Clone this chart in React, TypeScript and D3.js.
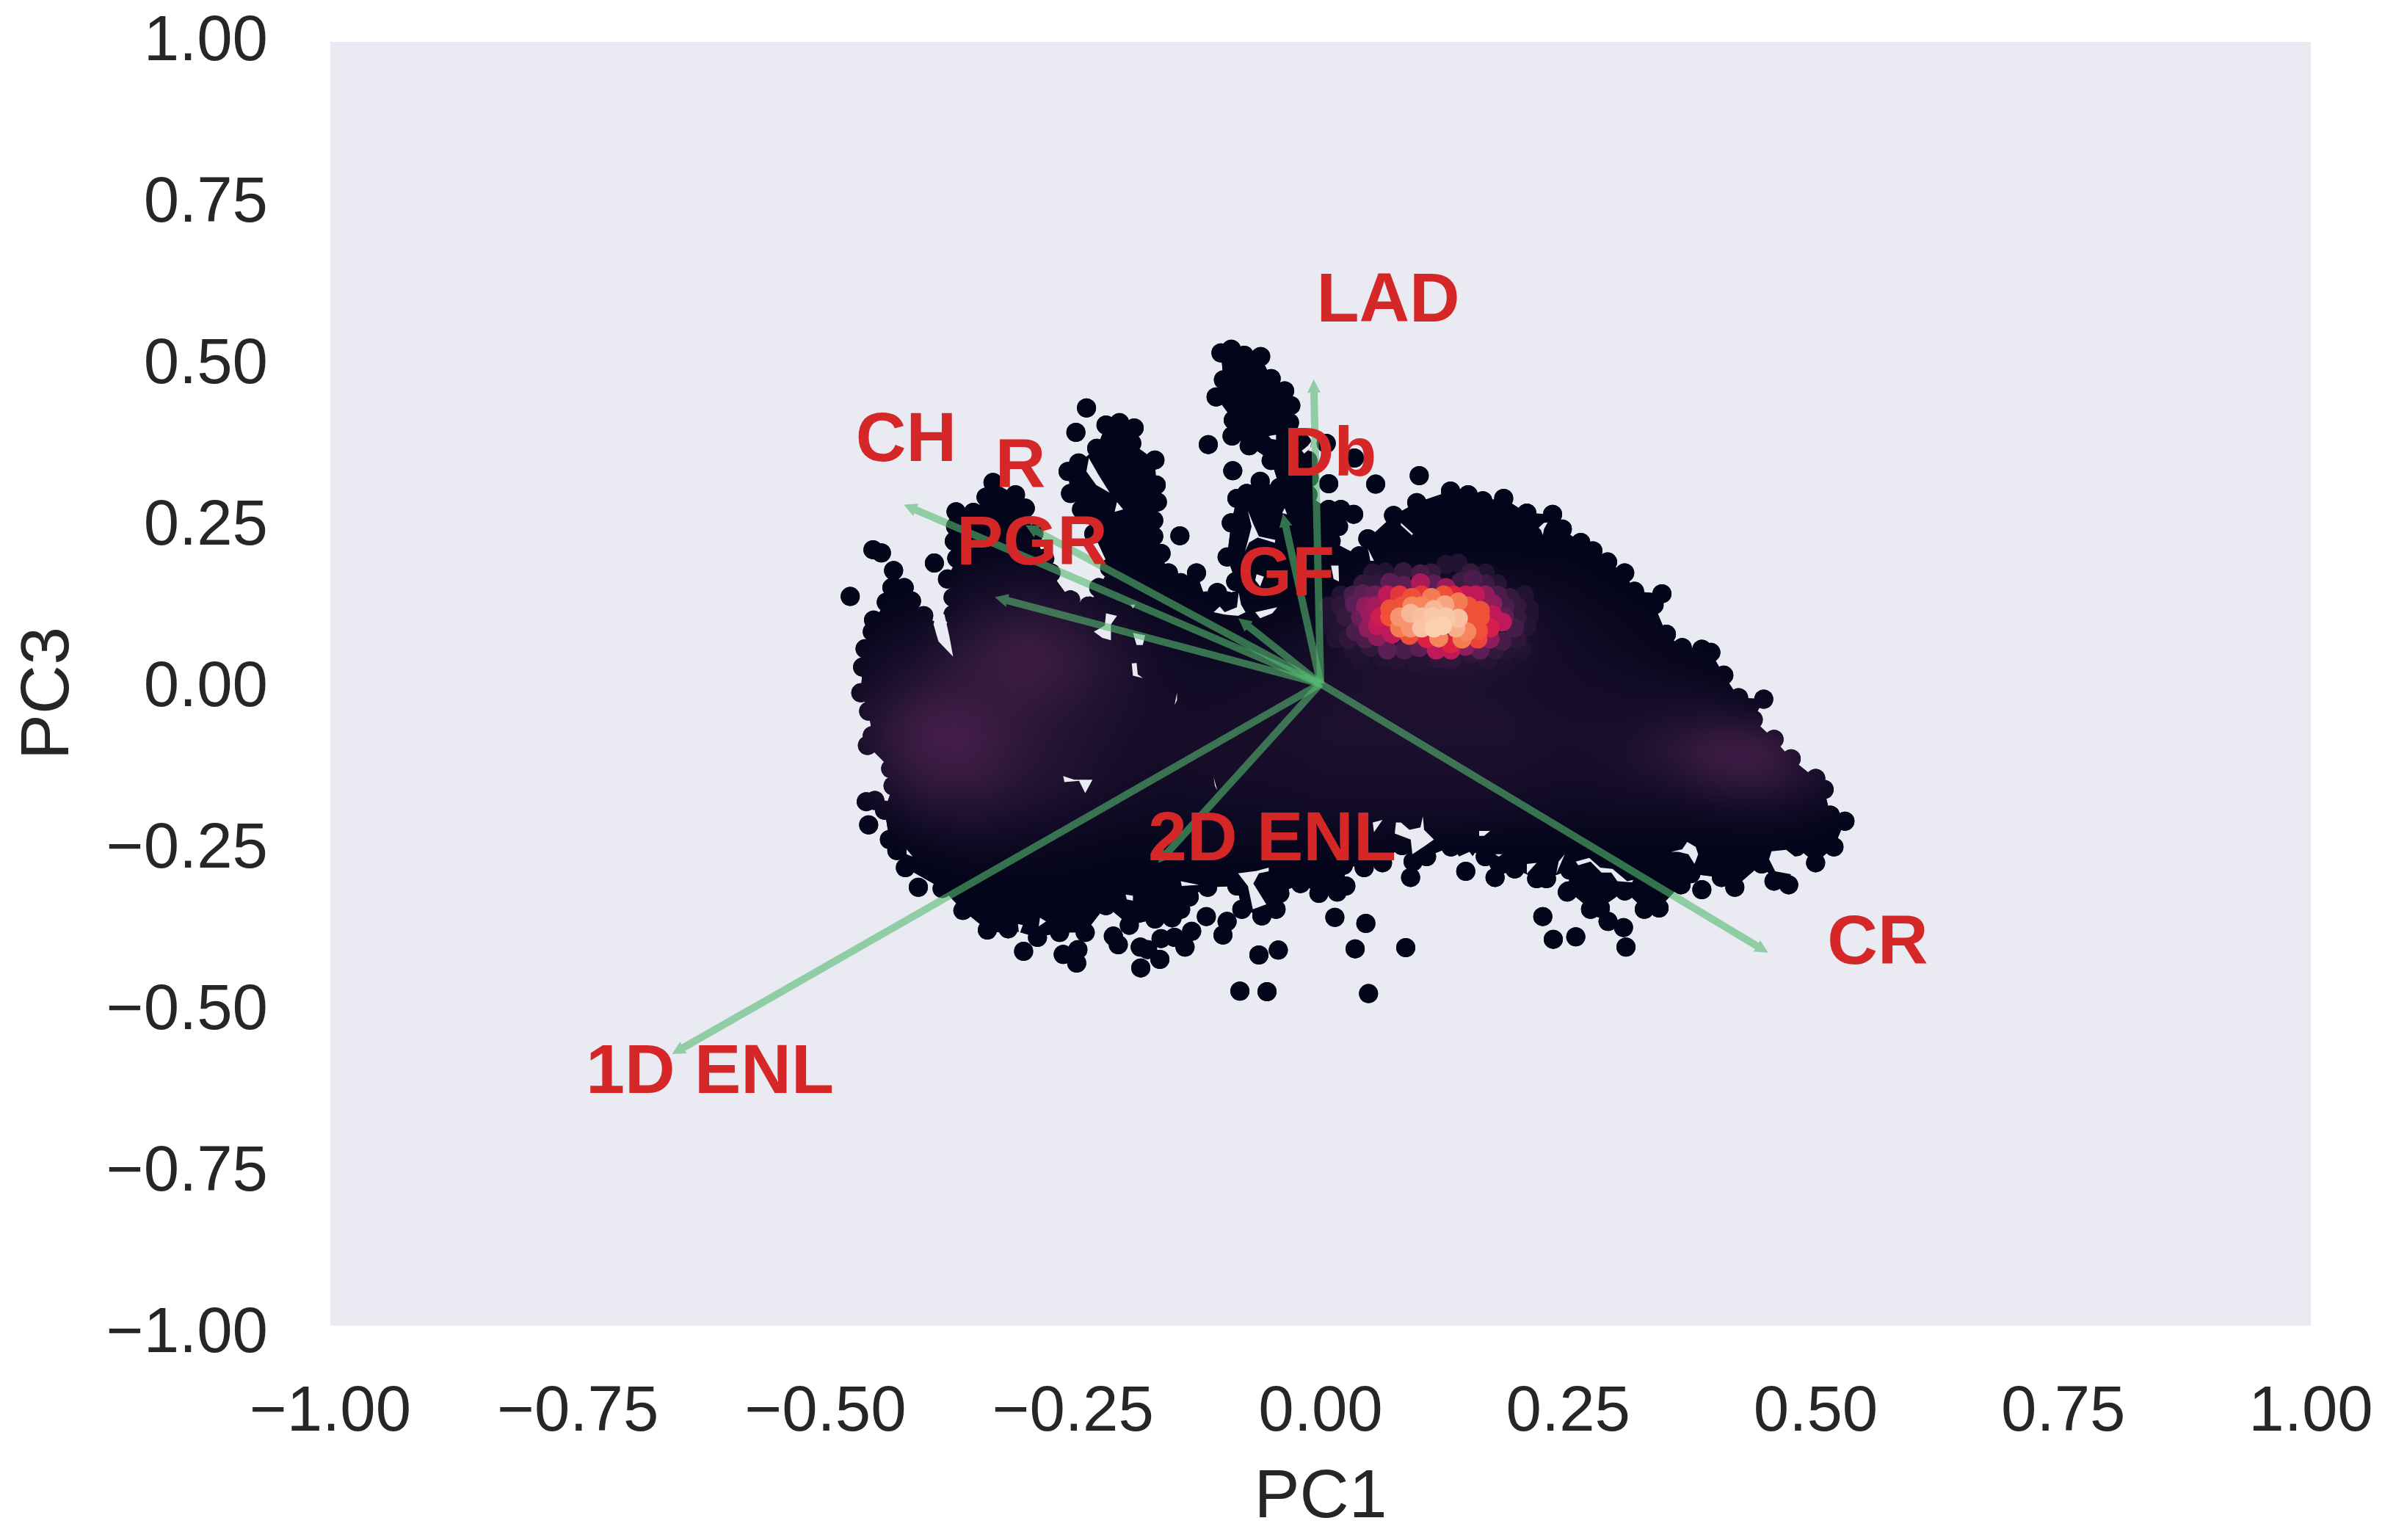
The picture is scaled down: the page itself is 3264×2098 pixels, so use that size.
import * as d3 from 'd3';

type Pt = [number, number];

const ticks = [-1, -0.75, -0.5, -0.25, 0, 0.25, 0.5, 0.75, 1];

// loadings: name, arrow tip, label centre
const loadingNames = ['CH', 'R', 'PGR', 'Db', 'GF', 'LAD', '2D ENL', '1D ENL', 'CR'];
const loadingTips: Pt[] = [
  [-0.421, 0.279], [-0.298, 0.247], [-0.329, 0.135], [-0.083, 0.102], [-0.038, 0.265],
  [-0.007, 0.474], [-0.164, -0.279], [-0.655, -0.577], [0.452, -0.419],
];
const loadingLabels: Pt[] = [
  [-0.4185, 0.3851], [-0.3032, 0.344], [-0.2913, 0.224], [0.0096, 0.3623], [-0.0348, 0.176],
  [0.0682, 0.6023], [-0.0489, -0.2366], [-0.6167, -0.6], [0.5626, -0.3977],
];

// points along the edge of the cloud, in order
const edgePoints: Pt[] = [
  [-0.4625, 0.0259], [-0.46, 0.0545], [-0.4527, 0.081], [-0.4514, 0.0992], [-0.4386, 0.1269], [-0.4329, 0.1497],
  [-0.4312, 0.1764], [-0.4205, 0.1497], [-0.4131, 0.1288], [-0.4008, 0.106], [-0.3958, 0.085], [-0.3921, 0.062],
  [-0.3711, 0.1078], [-0.3711, 0.1345], [-0.3768, 0.1631], [-0.3674, 0.1954], [-0.3699, 0.222], [-0.3686, 0.245],
  [-0.3681, 0.2678], [-0.3506, 0.267], [-0.3378, 0.2907], [-0.3308, 0.3135], [-0.3081, 0.2945], [-0.2982, 0.2735],
  [-0.2896, 0.2335], [-0.2785, 0.1954], [-0.2723, 0.1726], [-0.2525, 0.1307], [-0.234, 0.1212], [-0.2241, 0.1497],
  [-0.213, 0.1802], [-0.229, 0.2335], [-0.2414, 0.2716], [-0.2525, 0.2964], [-0.255, 0.3307], [-0.2443, 0.344],
  [-0.2261, 0.3669], [-0.2167, 0.4031], [-0.2031, 0.4069], [-0.1883, 0.3985], [-0.1907, 0.3745], [-0.1673, 0.3486],
  [-0.166, 0.3097], [-0.1648, 0.2831], [-0.1685, 0.2545], [-0.1685, 0.2297], [-0.1611, 0.203], [-0.1537, 0.1726],
  [-0.1413, 0.1574], [-0.1253, 0.1726], [-0.1154, 0.1288], [-0.1043, 0.1421], [-0.0944, 0.1288], [-0.0857, 0.1288],
  [-0.0857, 0.1593], [-0.0944, 0.1974], [-0.0902, 0.2507], [-0.0845, 0.2888], [-0.0746, 0.2964], [-0.061, 0.3154],
  [-0.0413, 0.3059], [-0.0499, 0.3478], [-0.0721, 0.3707], [-0.0894, 0.3859], [-0.0882, 0.4107], [-0.1055, 0.4469],
  [-0.0981, 0.4735], [-0.1006, 0.5154], [-0.0902, 0.5212], [-0.0771, 0.5116], [-0.0605, 0.5097], [-0.0499, 0.4754],
  [-0.0363, 0.4564], [-0.0301, 0.4335], [-0.0314, 0.4069], [-0.0239, 0.3821], [-0.019, 0.3745], [-0.0128, 0.3478],
  [-0.0116, 0.3211], [-0.0128, 0.2945], [0.0082, 0.2716], [0.0205, 0.2716], [0.0334, 0.264], [0.0181, 0.245],
  [0.0106, 0.2221], [0.0391, 0.1992], [0.0477, 0.2259], [0.0737, 0.2621], [0.0971, 0.2823], [0.1312, 0.3002],
  [0.149, 0.2945], [0.1638, 0.285], [0.1849, 0.2888], [0.2083, 0.2659], [0.2343, 0.264], [0.2441, 0.2411],
  [0.2627, 0.2202], [0.275, 0.2069], [0.2899, 0.1897], [0.3071, 0.1726], [0.317, 0.144], [0.3447, 0.1402],
  [0.3368, 0.123], [0.3492, 0.0773], [0.3652, 0.0564], [0.385, 0.0537], [0.3941, 0.0488], [0.4072, 0.0133],
  [0.4221, -0.0217], [0.4475, -0.024], [0.4369, -0.056], [0.4579, -0.0865], [0.4752, -0.117], [0.5, -0.1474],
  [0.5085, -0.1646], [0.5147, -0.2046], [0.5295, -0.2141], [0.5184, -0.2541], [0.4999, -0.2789], [0.4801, -0.2541],
  [0.4727, -0.3132], [0.4579, -0.3075], [0.4455, -0.2808], [0.4183, -0.317], [0.4048, -0.3018], [0.3739, -0.296],
  [0.364, -0.3132], [0.3418, -0.3494], [0.3269, -0.3513], [0.3072, -0.3227], [0.2825, -0.3494], [0.2726, -0.3513],
  [0.2503, -0.3227], [0.2516, -0.2903], [0.2281, -0.3037], [0.2182, -0.3037], [0.196, -0.2885], [0.1762, -0.3018],
  [0.1663, -0.2694], [0.1466, -0.2579], [0.1317, -0.2541], [0.107, -0.2694], [0.0934, -0.277], [0.0823, -0.2522],
  [0.0625, -0.2789], [0.044, -0.2865], [0.023, -0.2827], [0.0255, -0.3151], [0.0168, -0.3246], [-0.0017, -0.3265],
  [-0.0202, -0.3113], [-0.0412, -0.3265], [-0.045, -0.3513], [-0.0593, -0.3616], [-0.0795, -0.3513], [-0.0845, -0.3151],
  [-0.1141, -0.317], [-0.1327, -0.3322], [-0.15, -0.3647], [-0.1672, -0.3665], [-0.1932, -0.3761], [-0.2167, -0.3456],
  [-0.2377, -0.3875], [-0.2636, -0.3875], [-0.2859, -0.3951], [-0.3155, -0.3818], [-0.3365, -0.3837], [-0.3612, -0.3532],
  [-0.3822, -0.3189], [-0.4193, -0.2865], [-0.4279, -0.2599], [-0.4354, -0.2427], [-0.4403, -0.197], [-0.4317, -0.1589],
  [-0.4341, -0.1322], [-0.4576, -0.096], [-0.4527, -0.0808], [-0.4564, -0.0427], [-0.4643, -0.0141],
];

// stray points outside the edge
const strayPoints: Pt[] = [
  [-0.475, 0.136], [-0.452, 0.2088], [-0.4435, 0.2038], [-0.39, 0.188], [-0.1421, 0.2305], [0.0057, 0.3745],
  [0.0341, 0.3516], [0.0082, 0.3116], [0.0556, 0.3109], [0.0996, 0.3242], [-0.1134, 0.3726], [-0.0887, 0.3318],
  [-0.2364, 0.4297], [-0.2471, 0.3916], [-0.0623, 0.2145], [-0.4062, -0.317], [-0.4588, -0.1837], [-0.4502, -0.1818],
  [-0.4564, -0.2198], [-0.1816, -0.4427], [-0.1623, -0.4294], [-0.1747, -0.4141], [-0.1821, -0.4103], [-0.1611, -0.397],
  [-0.2043, -0.4065], [-0.2093, -0.3932], [-0.2463, -0.4351], [-0.2599, -0.4217], [-0.2451, -0.4141], [-0.2999, -0.4168],
  [-0.3254, -0.3722], [-0.1369, -0.4103], [-0.1302, -0.3856], [-0.1475, -0.3951], [-0.1413, -0.3513], [-0.1154, -0.3627],
  [-0.0944, -0.3703], [-0.0986, -0.3913], [-0.0623, -0.4225], [-0.0427, -0.4149], [-0.0815, -0.4789], [-0.0541, -0.4797],
  [0.0144, -0.3639], [0.0457, -0.3734], [0.0349, -0.413], [0.086, -0.4111], [0.0484, -0.4827], [0.1466, -0.2922],
  [0.0909, -0.3018], [0.2903, -0.3703], [0.3059, -0.3798], [0.3084, -0.4103], [0.2244, -0.3627], [0.235, -0.3981],
  [0.2577, -0.3943], [0.2491, -0.3246], [0.385, -0.3208],
];

// holes where the background shows through the cloud
const holes: Pt[][] = [
  [[-0.3909, 0.0926], [-0.3859, 0.0659], [-0.3711, 0.0423], [-0.3748, 0.0735], [-0.3798, 0.1078], [-0.3872, 0.1154]],
  [[-0.2624, 0.1555], [-0.2488, 0.144], [-0.234, 0.1353], [-0.234, 0.1574], [-0.2216, 0.1695], [-0.2352, 0.2031], [-0.2488, 0.2335], [-0.2785, 0.2373], [-0.2686, 0.1954], [-0.2624, 0.1764]],
  [[-0.2167, 0.1097], [-0.2056, 0.1059], [-0.2117, 0.0926], [-0.2117, 0.0678], [-0.2204, 0.0716], [-0.229, 0.0811], [-0.2179, 0.0907]],
  [[-0.1895, 0.0793], [-0.1771, 0.0754], [-0.1796, 0.0602], [-0.1858, 0.0602]],
  [[-0.1907, 0.0316], [-0.1858, 0.0324], [-0.1846, 0.0145], [-0.1796, 0.0088], [-0.1895, 0.0126]],
  [[-0.192, 0.1231], [-0.187, 0.1231], [-0.1895, 0.1174]],
  [[-0.2056, 0.2831], [-0.1994, 0.2716], [-0.208, 0.2678]],
  [[-0.234, 0.3516], [-0.2241, 0.325], [-0.213, 0.2975], [-0.2266, 0.3097], [-0.2365, 0.3307]],
  [[-0.0524, 0.3859], [-0.045, 0.3878], [-0.045, 0.3802], [-0.0499, 0.3813]],
  [[-0.019, 0.3631], [-0.0128, 0.3707], [-0.0091, 0.3783], [-0.0104, 0.3669], [-0.0165, 0.3585]],
  [[-0.0388, 0.2659], [-0.0363, 0.2735], [-0.0338, 0.264]],
  [[-0.0734, 0.2697], [-0.0679, 0.2488], [-0.0623, 0.2297], [-0.0457, 0.224], [-0.0462, 0.2195], [-0.0635, 0.2278], [-0.0721, 0.2202], [-0.0763, 0.2061], [-0.0734, 0.2225], [-0.0697, 0.245]],
  [[-0.0647, 0.1707], [-0.0573, 0.1669], [-0.061, 0.1516], [-0.066, 0.1612]],
  [[-0.108, 0.1116], [-0.1018, 0.1204], [-0.0968, 0.1116], [-0.0845, 0.1192], [-0.0827, 0.1421], [-0.0803, 0.1231], [-0.0758, 0.1116], [-0.0833, 0.1059], [-0.0968, 0.1078]],
  [[-0.066, 0.1116], [-0.0437, 0.1192], [-0.0487, 0.1097], [-0.061, 0.1021]],
  [[0.0106, 0.184], [0.0181, 0.184], [0.0186, 0.1593], [0.0131, 0.1631]],
  [[0.0477, 0.2107], [0.0539, 0.1916], [0.0502, 0.1916], [0.0489, 0.2031]],
  [[0.0811, 0.2507], [0.0934, 0.2336], [0.0921, 0.2316], [0.0811, 0.2469]],
  [[0.2256, 0.2507], [0.2293, 0.2514], [0.2256, 0.2411], [0.2244, 0.2316], [0.2226, 0.2392], [0.2202, 0.243]],
  [[-0.2599, -0.1437], [-0.2488, -0.1494], [-0.2303, -0.1494], [-0.2377, -0.1703], [-0.2439, -0.1513], [-0.2587, -0.1532]],
  [[-0.4181, -0.2579], [-0.4119, -0.2694], [-0.4181, -0.2656]],
  [[-0.1969, -0.3284], [-0.1895, -0.3303], [-0.1895, -0.3379], [-0.1957, -0.336]],
  [[-0.2834, -0.3646], [-0.2772, -0.3703], [-0.2846, -0.3779]],
  [[-0.3056, -0.3741], [-0.3007, -0.376], [-0.3044, -0.3913]],
  [[-0.1413, -0.3075], [-0.1228, -0.3132], [-0.1401, -0.3151]],
  [[-0.0833, -0.2953], [-0.0647, -0.2915], [-0.0524, -0.2865], [-0.0524, -0.2922], [-0.0623, -0.2953], [-0.0679, -0.3113], [-0.0548, -0.3437], [-0.0684, -0.3513], [-0.0734, -0.3151]],
  [[0.0761, -0.216], [0.0749, -0.2332], [0.091, -0.2427], [0.0927, -0.2656], [0.1058, -0.2522], [0.1144, -0.2427], [0.1045, -0.2275], [0.1033, -0.2065], [0.1008, -0.2237], [0.0897, -0.2275], [0.0811, -0.216]],
  [[0.0527, -0.216], [0.0625, -0.2122], [0.0539, -0.2313]],
  [[0.1601, -0.2294], [0.1712, -0.2294], [0.1651, -0.237], [0.1601, -0.237]],
  [[0.1762, -0.2656], [0.1836, -0.2656], [0.1799, -0.2694]],
  [[0.1367, -0.2713], [0.1503, -0.2618], [0.1614, -0.2846], [0.1638, -0.3], [0.1577, -0.2922], [0.1552, -0.2789]],
  [[0.3541, -0.2618], [0.3652, -0.2579], [0.3702, -0.2465], [0.3788, -0.2541], [0.3813, -0.2656], [0.3776, -0.2808], [0.3714, -0.2656], [0.3615, -0.2618]],
  [[0.4554, -0.261], [0.4702, -0.2587], [0.4789, -0.2694], [0.4888, -0.2675], [0.4863, -0.2865], [0.4789, -0.2979], [0.4591, -0.2922], [0.4529, -0.2732]],
  [[0.2577, -0.277], [0.2713, -0.2713], [0.2824, -0.2865], [0.2948, -0.2884], [0.3096, -0.3075], [0.3158, -0.3056], [0.3146, -0.3094], [0.2997, -0.3075], [0.2936, -0.2941], [0.2837, -0.2941], [0.2726, -0.277], [0.2602, -0.2827]],
  [[0.2404, -0.277], [0.2466, -0.2656], [0.238, -0.296]],
  [[0.2083, -0.2808], [0.2182, -0.2789], [0.2083, -0.296]],
  [[-0.108, -0.1456], [-0.1043, -0.1665], [-0.1067, -0.1589]],
  [[-0.145, -0.0141], [-0.1475, -0.0332], [-0.145, -0.0256]],
];

// points of the dense spot: x, y, density
const hotPoints: [number, number, number][] = [
  [0.0526, 0.1726, 0.12], [0.065, 0.1741, 0.11], [0.0835, 0.1745, 0.16], [0.1008, 0.1712, 0.2], [0.1119, 0.1726, 0.16], [0.1267, 0.1859, 0.11], [0.1391, 0.1878, 0.11], [0.1514, 0.1726, 0.16], [0.1663, 0.1726, 0.11],
  [0.0427, 0.1554, 0.15], [0.0551, 0.1554, 0.15], [0.0699, 0.158, 0.27], [0.0835, 0.1532, 0.27], [0.1008, 0.1573, 0.42], [0.1144, 0.1554, 0.27], [0.1267, 0.1497, 0.38], [0.1416, 0.1592, 0.18], [0.1539, 0.1630, 0.22], [0.1663, 0.1554, 0.18], [0.1786, 0.1554, 0.12],
  [0.0205, 0.1383, 0.11], [0.0328, 0.1383, 0.2], [0.0427, 0.1402, 0.27], [0.0551, 0.1383, 0.3], [0.0674, 0.1383, 0.46], [0.0798, 0.1383, 0.58], [0.0921, 0.1345, 0.62], [0.102, 0.1383, 0.58], [0.1119, 0.1345, 0.7], [0.1243, 0.1383, 0.62], [0.1341, 0.1383, 0.55], [0.1465, 0.1383, 0.46], [0.1564, 0.1383, 0.46], [0.1663, 0.1383, 0.36], [0.1786, 0.1383, 0.22], [0.191, 0.1345, 0.16], [0.2058, 0.1383, 0.11],
  [0.0081, 0.1211, 0.11], [0.0205, 0.1211, 0.14], [0.0341, 0.1249, 0.27], [0.0452, 0.1211, 0.36], [0.0551, 0.1211, 0.4], [0.0699, 0.1166, 0.62], [0.0823, 0.1211, 0.62], [0.0921, 0.1211, 0.72], [0.102, 0.1211, 0.72], [0.1144, 0.1154, 0.82], [0.1255, 0.123, 0.78], [0.1391, 0.1276, 0.7], [0.149, 0.1211, 0.62], [0.1613, 0.1143, 0.62], [0.1737, 0.1249, 0.36], [0.186, 0.1211, 0.22], [0.1984, 0.1211, 0.15], [0.2108, 0.1173, 0.11],
  [0.0106, 0.104, 0.11], [0.0254, 0.104, 0.16], [0.0402, 0.104, 0.3], [0.0501, 0.1078, 0.38], [0.06, 0.104, 0.5], [0.0699, 0.104, 0.62], [0.0798, 0.104, 0.75], [0.0909, 0.1097, 0.82], [0.102, 0.104, 0.84], [0.1131, 0.104, 0.86], [0.1267, 0.104, 0.86], [0.1391, 0.1021, 0.84], [0.1514, 0.104, 0.62], [0.1613, 0.104, 0.62], [0.1737, 0.1078, 0.46], [0.186, 0.104, 0.27], [0.1984, 0.104, 0.16], [0.2108, 0.104, 0.11],
  [0.0081, 0.0907, 0.1], [0.0205, 0.0868, 0.12], [0.0353, 0.0811, 0.22], [0.0477, 0.0868, 0.36], [0.0575, 0.0906, 0.46], [0.0687, 0.0868, 0.46], [0.0798, 0.0868, 0.7], [0.0909, 0.0868, 0.75], [0.102, 0.0868, 0.85], [0.1144, 0.0868, 0.88], [0.123, 0.0907, 0.88], [0.1366, 0.0868, 0.8], [0.1477, 0.0811, 0.72], [0.1594, 0.083, 0.62], [0.1712, 0.0868, 0.52], [0.1836, 0.0964, 0.46], [0.1959, 0.0868, 0.2], [0.2083, 0.0887, 0.12],
  [0.0155, 0.0697, 0.11], [0.0279, 0.0697, 0.14], [0.0452, 0.0697, 0.22], [0.0575, 0.0735, 0.36], [0.0724, 0.0773, 0.46], [0.0897, 0.0754, 0.62], [0.107, 0.0705, 0.55], [0.1193, 0.0716, 0.72], [0.1317, 0.0621, 0.55], [0.1428, 0.0697, 0.7], [0.1589, 0.0697, 0.6], [0.1712, 0.0697, 0.36], [0.1836, 0.0659, 0.2], [0.1984, 0.0697, 0.14],
  [0.0328, 0.0526, 0.11], [0.0501, 0.0564, 0.15], [0.0674, 0.0526, 0.27], [0.0847, 0.0526, 0.22], [0.0996, 0.0564, 0.27], [0.1168, 0.0526, 0.46], [0.1317, 0.0526, 0.46], [0.1465, 0.0583, 0.36], [0.1613, 0.0526, 0.27], [0.1762, 0.0526, 0.15], [0.1885, 0.0526, 0.12], [0.2033, 0.0526, 0.11],
  [0.0402, 0.0373, 0.1], [0.0625, 0.0392, 0.11], [0.0773, 0.0373, 0.12], [0.0971, 0.0316, 0.12], [0.1193, 0.0392, 0.14], [0.1317, 0.0373, 0.14], [0.1514, 0.0468, 0.14], [0.1687, 0.0373, 0.12], [0.186, 0.0373, 0.1],
];

// density (x100) read across the cloud, rows top to bottom
const gridX0 = -0.55;
const gridY0 = 0.55;
const gridStep = 0.05;
const densityRows: number[][] = [
  [0, 0, 0, 0, 0, 0, 0, 0, 0, 0, 0, 0, 0, 0, 0, 0, 0, 0, 0, 0, 0, 0, 0, 0],
  [0, 0, 0, 0, 0, 0, 0, 0, 0, 0, 0, 0, 0, 0, 0, 0, 0, 0, 0, 0, 0, 0, 0, 0],
  [0, 0, 0, 0, 0, 0, 0, 0, 0, 0, 0, 0, 0, 0, 0, 0, 0, 0, 0, 0, 0, 0, 0, 0],
  [0, 0, 0, 0, 0, 0, 0, 0, 0, 0, 0, 0, 0, 0, 0, 0, 0, 0, 0, 0, 0, 0, 0, 0],
  [0, 0, 0, 0, 0, 0, 0, 0, 0, 0, 0, 0, 0, 0, 0, 0, 0, 0, 0, 0, 0, 0, 0, 0],
  [0, 0, 0, 0, 0, 0, 0, 0, 0, 0, 0, 0, 0, 0, 0, 0, 0, 0, 0, 0, 0, 0, 0, 0],
  [0, 0, 0, 0, 0, 0, 0, 0, 0, 0, 0, 0, 0, 0, 0, 0, 0, 0, 0, 0, 0, 0, 0, 0],
  [0, 0, 0, 0, 2, 3, 2, 0, 0, 0, 0, 0, 1, 1, 1, 1, 1, 0, 0, 0, 0, 0, 0, 0],
  [0, 0, 0, 1, 6, 8, 7, 3, 1, 0, 0, 0, 4, 8, 8, 5, 3, 1, 0, 0, 0, 0, 0, 0],
  [0, 0, 2, 4, 11, 14, 12, 7, 3, 2, 2, 4, 9, 14, 14, 9, 5, 3, 1, 0, 0, 0, 0, 0],
  [0, 0, 5, 9, 15, 20, 16, 10, 5, 4, 5, 7, 10, 14, 14, 10, 6, 4, 2, 1, 0, 0, 0, 0],
  [0, 2, 8, 13, 16, 18, 15, 10, 6, 6, 7, 8, 9, 9, 9, 8, 7, 6, 5, 3, 1, 0, 0, 0],
  [0, 4, 12, 19, 19, 15, 12, 9, 7, 7, 8, 9, 9, 9, 9, 9, 8, 8, 9, 10, 7, 1, 0, 0],
  [0, 4, 12, 20, 20, 14, 11, 8, 7, 7, 8, 9, 9, 9, 9, 9, 8, 9, 14, 20, 20, 8, 0, 0],
  [0, 2, 9, 16, 17, 13, 10, 7, 6, 7, 7, 8, 8, 8, 8, 8, 7, 8, 10, 15, 16, 10, 3, 0],
  [0, 0, 4, 10, 11, 9, 7, 5, 4, 5, 5, 6, 6, 6, 6, 5, 4, 4, 4, 5, 6, 4, 1, 0],
  [0, 0, 0, 3, 5, 4, 3, 2, 2, 3, 3, 2, 2, 1, 1, 1, 1, 1, 1, 1, 1, 0, 0, 0],
  [0, 0, 0, 0, 1, 1, 1, 0, 0, 0, 0, 0, 0, 0, 0, 0, 0, 0, 0, 0, 0, 0, 0, 0],
  [0, 0, 0, 0, 0, 0, 0, 0, 0, 0, 0, 0, 0, 0, 0, 0, 0, 0, 0, 0, 0, 0, 0, 0],
  [0, 0, 0, 0, 0, 0, 0, 0, 0, 0, 0, 0, 0, 0, 0, 0, 0, 0, 0, 0, 0, 0, 0, 0],
  [0, 0, 0, 0, 0, 0, 0, 0, 0, 0, 0, 0, 0, 0, 0, 0, 0, 0, 0, 0, 0, 0, 0, 0],
  [0, 0, 0, 0, 0, 0, 0, 0, 0, 0, 0, 0, 0, 0, 0, 0, 0, 0, 0, 0, 0, 0, 0, 0],
];

const colourStops = [0, 0.1, 0.16, 0.2, 0.27, 0.36, 0.46, 0.55, 0.62, 0.7, 0.82, 0.88, 1];
const colourValues = ['#03051a', '#1f1130', '#351a3e', '#451c4a', '#5b1e55', '#8f1d5c', '#c1185a', '#dc2241', '#ef5138', '#f57c52', '#f7b899', '#fad0b0', '#faebdd'];

const WIDTH = 3264;
const HEIGHT = 2098;
const BG = '#eaeaf2';
const R = 13;

const x = d3.scaleLinear().domain([-1, 1]).range([450, 3148]);
const y = d3.scaleLinear().domain([-1, 1]).range([1806, 57]);
// y tick labels sit on their own, slightly wider spacing
const yLabelBaseline = d3.scaleLinear().domain([-1, 1]).range([1842, 82]);
const colour = d3.scaleLinear<string>().domain(colourStops).range(colourValues);
const fmt = d3.format('.2f');

const ring = d3.line<Pt>().x(d => x(d[0])).y(d => y(d[1])).curve(d3.curveLinearClosed);

const levels = d3.range(0, 24);
const nCols = densityRows[0].length;
const nRows = densityRows.length;
const contours = d3.contours().size([nCols, nRows]).thresholds(levels)(densityRows.flat());
const gridPath = d3.geoPath(
  d3.geoTransform({
    point(gx: number, gy: number) {
      this.stream.point(x(gridX0 + (gx - 0.5) * gridStep), y(gridY0 - (gy - 0.5) * gridStep));
    },
  }),
);

function arrowPath(tip: Pt) {
  const x0 = x(0);
  const y0 = y(0);
  const x1 = x(tip[0]);
  const y1 = y(tip[1]);
  const len = Math.hypot(x1 - x0, y1 - y0);
  const ux = (x1 - x0) / len;
  const uy = (y1 - y0) / len;
  const nx = -uy;
  const ny = ux;
  const w = 5;
  const hw = 9;
  const hl = 18;
  const bx = x1 - ux * hl;
  const by = y1 - uy * hl;
  const p = d3.path();
  p.moveTo(x0 + nx * w, y0 + ny * w);
  p.lineTo(bx + nx * w, by + ny * w);
  p.lineTo(bx + nx * hw, by + ny * hw);
  p.lineTo(x1, y1);
  p.lineTo(bx - nx * hw, by - ny * hw);
  p.lineTo(bx - nx * w, by - ny * w);
  p.lineTo(x0 - nx * w, y0 - ny * w);
  p.closePath();
  return p.toString();
}

const allPoints = [...edgePoints, ...strayPoints];
const hotSorted = [...hotPoints].sort((a, b) => d3.ascending(a[2], b[2]));

export default function App() {
  return (
    <svg
      width={WIDTH}
      height={HEIGHT}
      viewBox={`0 0 ${WIDTH} ${HEIGHT}`}
      style={{ position: 'absolute', left: 0, top: 0, background: '#fff' }}
      fontFamily="'Liberation Sans', Arial, sans-serif"
    >
      <defs>
        <filter id="soft" x="-5%" y="-5%" width="110%" height="110%" colorInterpolationFilters="sRGB">
          <feGaussianBlur stdDeviation="16" />
        </filter>
        <clipPath id="cloud">
          <path d={ring(edgePoints) ?? ''} />
          {allPoints.map((d, i) => (
            <circle key={i} cx={x(d[0])} cy={y(d[1])} r={R} />
          ))}
        </clipPath>
      </defs>

      <rect x={x(-1)} y={y(1)} width={x(1) - x(-1)} height={y(-1) - y(1)} fill={BG} />

      <g fill={colourValues[0]}>
        <path d={ring(edgePoints) ?? ''} />
        {allPoints.map((d, i) => (
          <circle key={i} cx={x(d[0])} cy={y(d[1])} r={R} />
        ))}
      </g>

      <g clipPath="url(#cloud)">
        <g filter="url(#soft)">
          {contours.map(c => (
            <path key={c.value} d={gridPath(c) ?? ''} fill={colour(c.value / 100)} />
          ))}
        </g>
      </g>

      <g>
        {holes.map((h, i) => (
          <path key={i} d={ring(h) ?? ''} fill={BG} />
        ))}
      </g>

      <g>
        {hotSorted.map((d, i) => (
          <circle key={i} cx={x(d[0])} cy={y(d[1])} r={R} fill={colour(d[2])} />
        ))}
      </g>

      <g fill="#55b96f" fillOpacity={0.6}>
        {loadingTips.map((t, i) => (
          <path key={i} d={arrowPath(t)} />
        ))}
      </g>

      <g fill="#d62728" fontWeight="bold" fontSize={95} textAnchor="middle">
        {loadingNames.map((n, i) => (
          <text key={n} x={x(loadingLabels[i][0])} y={y(loadingLabels[i][1])} dy="0.35em">
            {n}
          </text>
        ))}
      </g>

      <g fill="#262626" fontSize={87}>
        {ticks.map(t => (
          <text key={t} x={x(t)} y={1949} textAnchor="middle">
            {fmt(t)}
          </text>
        ))}
        {ticks.map(t => (
          <text key={t} x={365} y={yLabelBaseline(t)} textAnchor="end">
            {fmt(t)}
          </text>
        ))}
      </g>

      <g fill="#262626" fontSize={93} textAnchor="middle">
        <text x={x(0)} y={2067}>PC1</text>
        <text transform={`translate(93,${y(0) + 13}) rotate(-90)`}>PC3</text>
      </g>
    </svg>
  );
}
